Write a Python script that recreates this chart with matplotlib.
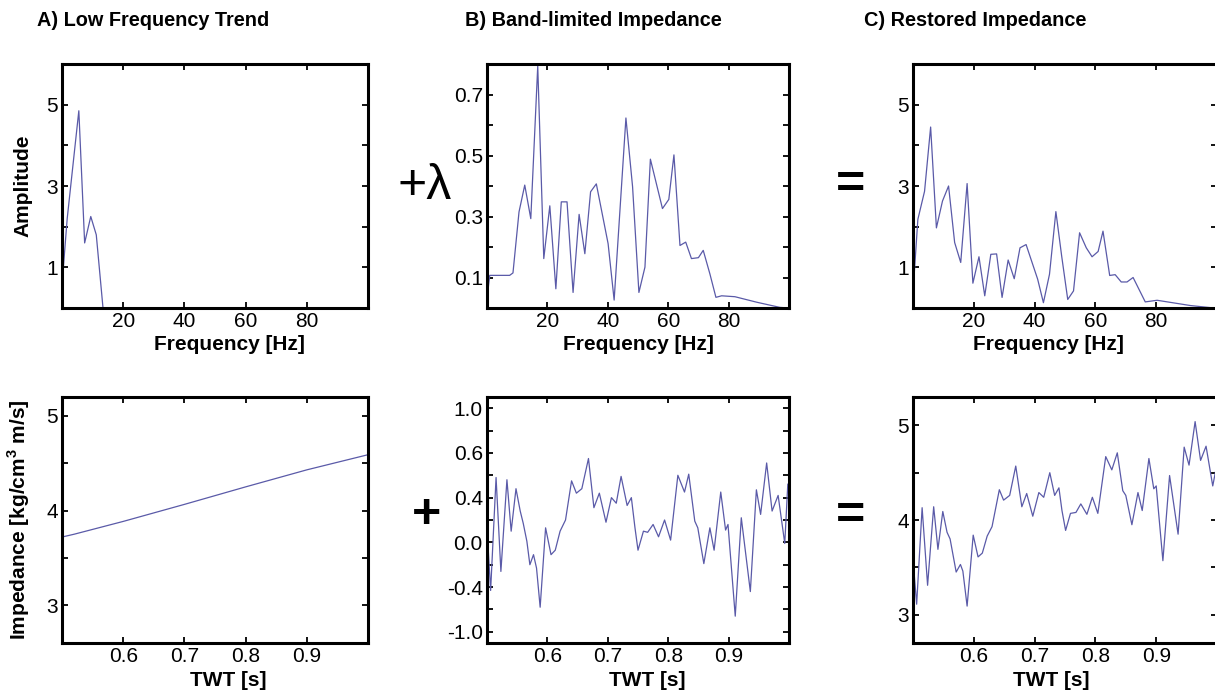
import numpy as np
import matplotlib
matplotlib.use("Agg")
import matplotlib.pyplot as plt
from matplotlib.ticker import FixedLocator, FixedFormatter

plt.rcParams['font.family'] = ['Liberation Sans', 'DejaVu Sans']

# --- top row: amplitude spectra ---
freq_a = [0, 0.4, 1.7, 5.5, 7.4, 9.4, 11.2, 13.4, 100]
amp_a = [0.35, 0.95, 2.2, 4.85, 1.6, 2.25, 1.8, 0.0, 0.0]

freq_b = [0, 0.9, 7.5, 8.6, 10.6, 12.5, 14.5, 16.8, 18.8, 20.8, 22.8, 24.6, 26.5,
          28.5, 30.5, 32.4, 34.3, 36.2, 40.1, 42.1, 46.0, 48.2, 50.3, 52.3, 54.1,
          58.1, 60.2, 61.9, 63.9, 65.8, 67.7, 70.0, 71.6, 73.8, 75.8, 77.7, 82.1,
          89.3, 97.0, 100]
amp_b = [0.03, 0.107, 0.107, 0.115, 0.315, 0.403, 0.293, 0.793, 0.162, 0.335, 0.063,
         0.348, 0.348, 0.051, 0.307, 0.178, 0.381, 0.407, 0.211, 0.026, 0.623, 0.398,
         0.051, 0.134, 0.488, 0.326, 0.356, 0.502, 0.205, 0.216, 0.162, 0.165, 0.189,
         0.112, 0.035, 0.04, 0.037, 0.019, 0.002, 0.0]

freq_c = [0, 1.6, 3.8, 5.8, 7.7, 9.7, 11.7, 13.7, 15.7, 17.8, 19.7, 21.7, 23.6, 25.6,
          27.5, 29.3, 31.3, 33.3, 35.2, 37.2, 41.0, 42.9, 44.9, 47.0, 48.9, 50.9,
          52.8, 54.8, 57.0, 58.9, 60.9, 62.5, 64.7, 66.5, 68.5, 70.4, 72.4, 74.6,
          76.4, 80.3, 91.3, 99]
amp_c = [0.38, 2.18, 2.87, 4.45, 1.97, 2.63, 3.0, 1.61, 1.12, 3.06, 0.61, 1.26, 0.30,
         1.32, 1.33, 0.26, 1.18, 0.72, 1.48, 1.56, 0.71, 0.13, 0.83, 2.37, 1.28, 0.21,
         0.42, 1.85, 1.48, 1.26, 1.39, 1.89, 0.80, 0.82, 0.64, 0.64, 0.75, 0.42, 0.15,
         0.19, 0.06, 0.0]

# --- bottom row: impedance traces ---
t_low = [0.5, 0.52, 0.6, 0.7, 0.8, 0.9, 1.0]
imp_low = [3.72, 3.75, 3.885, 4.065, 4.25, 4.43, 4.59]

t_b = [0.500, 0.506, 0.515, 0.523, 0.533, 0.540, 0.548, 0.555, 0.560, 0.566,
       0.571, 0.577, 0.582, 0.588, 0.597, 0.606, 0.613, 0.621, 0.630, 0.640,
       0.648, 0.657, 0.668, 0.677, 0.686, 0.697, 0.706, 0.714, 0.722, 0.732,
       0.739, 0.745, 0.750, 0.759, 0.766, 0.775, 0.784, 0.794, 0.804, 0.816,
       0.827, 0.834, 0.844, 0.849, 0.859, 0.869, 0.876, 0.887, 0.895, 0.899,
       0.911, 0.921, 0.936, 0.946, 0.953, 0.963, 0.972, 0.982, 0.993, 0.998]
band_b = [-0.07, -0.63, 0.38, -0.46, 0.36, -0.10, 0.28, 0.08, -0.03, -0.19,
          -0.40, -0.31, -0.43, -0.78, -0.07, -0.31, -0.27, -0.10, 0.00, 0.35,
          0.24, 0.28, 0.55, 0.11, 0.24, -0.02, 0.20, 0.15, 0.39, 0.13,
          0.20, -0.07, -0.27, -0.10, -0.11, -0.04, -0.15, 0.00, -0.18, 0.40,
          0.25, 0.41, -0.01, -0.07, -0.39, -0.07, -0.27, 0.25, -0.09, -0.04,
          -0.86, 0.02, -0.64, 0.27, 0.05, 0.51, 0.08, 0.22, -0.21, 0.32]

t_c = [0.4994, 0.506, 0.515, 0.524, 0.534, 0.541, 0.549, 0.556, 0.561, 0.571,
       0.578, 0.582, 0.589, 0.599, 0.607, 0.614, 0.622, 0.630, 0.642, 0.649,
       0.659, 0.669, 0.679, 0.687, 0.697, 0.707, 0.715, 0.725, 0.733, 0.740,
       0.745, 0.751, 0.759, 0.768, 0.776, 0.786, 0.795, 0.804, 0.817, 0.827,
       0.836, 0.845, 0.850, 0.860, 0.870, 0.877, 0.888, 0.896, 0.900, 0.911,
       0.922, 0.936, 0.946, 0.954, 0.964, 0.973, 0.982, 0.993, 0.999]
imp_c = [3.63, 3.11, 4.13, 3.31, 4.14, 3.69, 4.09, 3.87, 3.80, 3.45,
         3.53, 3.46, 3.09, 3.84, 3.61, 3.65, 3.83, 3.93, 4.32, 4.21,
         4.26, 4.57, 4.14, 4.28, 4.04, 4.29, 4.24, 4.50, 4.26, 4.34,
         4.10, 3.89, 4.07, 4.08, 4.17, 4.06, 4.24, 4.07, 4.67, 4.53,
         4.71, 4.31, 4.26, 3.95, 4.29, 4.10, 4.65, 4.33, 4.36, 3.57,
         4.47, 3.85, 4.77, 4.58, 5.04, 4.63, 4.78, 4.36, 4.56]

# tick labels as printed in the figure
freq_ticks = [20, 40, 60, 80]
time_ticks = [0.6, 0.7, 0.8, 0.9]
amp_ticks = [1, 2, 3, 4, 5]
amp_labels = ['1', '', '3', '', '5']
ampb_ticks = [0.1, 0.2, 0.3, 0.4, 0.5, 0.6, 0.7]
ampb_labels = ['0.1', '', '0.3', '', '0.5', '', '0.7']
imp_ticks = [3, 3.5, 4, 4.5, 5]
imp_labels = ['3', '', '4', '', '5']
band_ticks = [-1.0, -0.8, -0.6, -0.4, -0.2, 0.0, 0.2, 0.4, 0.6, 0.8, 1.0]
band_labels = ['-1.0', '', '-0.4', '', '0.0', '', '0.4', '', '0.6', '', '1.0']

LINE = '#5a5aa8'
W, H = 1215, 695

fig = plt.figure(figsize=(W / 100, H / 100), dpi=100)


def px_axes(left, top, right, bottom):
    return fig.add_axes([left / W, 1 - bottom / H, (right - left) / W, (bottom - top) / H])


def style(ax, xt, xl, yt, yl):
    ax.xaxis.set_major_locator(FixedLocator(xt))
    ax.xaxis.set_major_formatter(FixedFormatter(xl))
    ax.yaxis.set_major_locator(FixedLocator(yt))
    ax.yaxis.set_major_formatter(FixedFormatter(yl))
    ax.tick_params(direction='in', length=4, width=1.3, top=True, right=True,
                   labelsize=15, pad=3, colors='black')
    for s in ax.spines.values():
        s.set_linewidth(2.2)


ax_a1 = px_axes(62, 64, 368, 308)
ax_b1 = px_axes(487, 64, 789, 308)
ax_c1 = px_axes(913, 64, 1217, 308)
ax_a2 = px_axes(62, 397, 368, 643)
ax_b2 = px_axes(487, 397, 789, 643)
ax_c2 = px_axes(913, 397, 1217, 643)

ax_a1.plot(freq_a, amp_a, color=LINE, lw=0.9)
ax_b1.plot(freq_b, amp_b, color=LINE, lw=0.9)
ax_c1.plot(freq_c, amp_c, color=LINE, lw=0.9)
ax_a2.plot(t_low, imp_low, color=LINE, lw=0.9)
ax_b2.plot(t_b, band_b, color=LINE, lw=0.9)
ax_c2.plot(t_c, imp_c, color=LINE, lw=0.9)

for ax in (ax_a1, ax_b1, ax_c1):
    ax.set_xlim(0, 100)
ax_a1.set_ylim(0, 6)
ax_c1.set_ylim(0, 6)
ax_b1.set_ylim(0, 0.8)
for ax in (ax_a2, ax_b2, ax_c2):
    ax.set_xlim(0.5, 1.0)
ax_a2.set_ylim(2.6, 5.2)
ax_b2.set_ylim(-1.1, 1.1)
ax_c2.set_ylim(2.7, 5.3)

fl = [str(v) for v in freq_ticks]
tl = [str(v) for v in time_ticks]
style(ax_a1, freq_ticks, fl, amp_ticks, amp_labels)
style(ax_b1, freq_ticks, fl, ampb_ticks, ampb_labels)
style(ax_c1, freq_ticks, fl, amp_ticks, amp_labels)
style(ax_a2, time_ticks, tl, imp_ticks, imp_labels)
style(ax_b2, time_ticks, tl, band_ticks, band_labels)
style(ax_c2, time_ticks, tl, imp_ticks, imp_labels)

lab = dict(fontsize=15, fontweight='bold')
for ax, xc in ((ax_a1, 0.546), (ax_b1, 0.503), (ax_c1, 0.447)):
    ax.set_xlabel('Frequency [Hz]', **lab)
    ax.xaxis.set_label_coords(xc, -0.112)
for ax, xc in ((ax_a2, 0.542), (ax_b2, 0.530), (ax_c2, 0.454)):
    ax.set_xlabel('TWT [s]', **lab)
    ax.xaxis.set_label_coords(xc, -0.112)

ax_a1.set_ylabel('Amplitude', **lab)
ax_a1.yaxis.set_label_coords(-0.098, 0.5)
ax_a2.set_ylabel('Impedance [kg/cm$^\\mathregular{3}$ m/s]', **lab)
ax_a2.yaxis.set_label_coords(-0.098, 0.5)

# panel titles
tit = dict(fontsize=14.3, fontweight='bold', ha='center', va='center')
fig.text(153.5 / W, 1 - 21 / H, 'A) Low Frequency Trend', **tit)
fig.text(593.5 / W, 1 - 21 / H, 'B) Band-limited Impedance', **tit)
fig.text(975 / W, 1 - 21 / H, 'C) Restored Impedance', **tit)

# operators between panels
op = dict(fontsize=36, ha='center', va='center')
fig.text(425 / W, 1 - 186 / H, '+λ', **op)
fig.text(427 / W, 1 - 515 / H, '+', fontweight='bold', **op)
fig.text(851 / W, 1 - 186 / H, '=', fontweight='bold', **op)
fig.text(851 / W, 1 - 517 / H, '=', fontweight='bold', **op)

fig.savefig('out.png', dpi=100)
